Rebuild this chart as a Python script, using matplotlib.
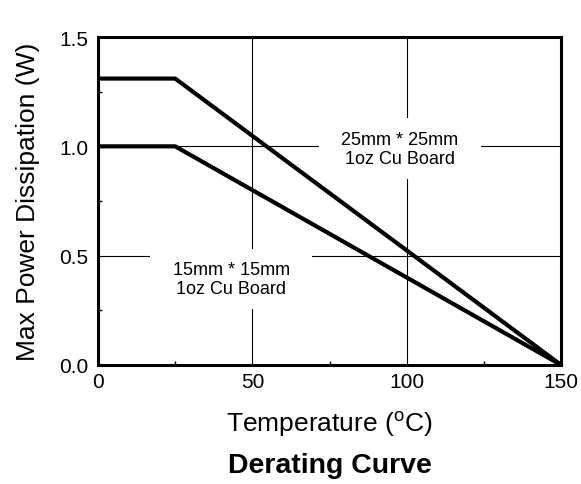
import matplotlib

matplotlib.use("Agg")
import matplotlib.pyplot as plt
from matplotlib.ticker import MultipleLocator

plt.rcParams["font.family"] = ["Liberation Sans", "DejaVu Sans"]
plt.rcParams["mathtext.fontset"] = "custom"
plt.rcParams["mathtext.rm"] = "Liberation Sans"

# derating curves: temperature (C) vs max power (W)
temp = [0, 25, 150]
power_25mm = [1.31, 1.31, 0.0]
power_15mm = [1.0, 1.0, 0.0]

x_ticks = [0, 50, 100, 150]
y_ticks = [0.0, 0.5, 1.0, 1.5]

fig = plt.figure(figsize=(5.81, 4.85), dpi=100)
ax = fig.add_axes([0.1687, 0.2454, 0.797, 0.6762])

ax.plot(temp, power_25mm, color="black", lw=3, solid_capstyle="butt", zorder=3)
ax.plot(temp, power_15mm, color="black", lw=3, solid_capstyle="butt", zorder=3)

ax.set_xlim(0, 150)
ax.set_ylim(0, 1.5)
ax.set_xticks(x_ticks)
ax.set_yticks(y_ticks)
ax.set_yticklabels([f"{v:.1f}" for v in y_ticks])
ax.xaxis.set_minor_locator(MultipleLocator(25))
ax.yaxis.set_minor_locator(MultipleLocator(0.25))
ax.tick_params(which="major", direction="in", length=0, labelsize=15)
ax.tick_params(axis="x", which="major", pad=5)
ax.tick_params(axis="y", which="major", pad=7)
ax.tick_params(which="minor", direction="in", length=3, width=1)
ax.grid(True, which="major", color="black", lw=0.8)
for s in ax.spines.values():
    s.set_linewidth(2.2)

box = dict(facecolor="white", edgecolor="none", pad=9)
ax.text(97.8, 0.99, "  25mm * 25mm  \n1oz Cu Board", ha="center", va="center",
        fontsize=13, linespacing=1.15, bbox=box, zorder=2)
ax.text(43.1, 0.393, "  15mm * 15mm  \n1oz Cu Board", ha="center", va="center",
        fontsize=13, linespacing=1.15, bbox=box, zorder=2)

fig.text(0.5 * (0.1687 + 0.9656), 1 - 432 / 485, "Temperature ($^{\\rm o}$C)",
         ha="center", va="baseline", fontsize=19)
fig.text(0.048, 1 - 202 / 485, "Max Power Dissipation (W)", rotation=90,
         ha="center", va="center", fontsize=19)
fig.text(0.5 * (0.1687 + 0.9656), 1 - 473 / 485, "Derating Curve", ha="center",
         va="baseline", fontsize=20.5, fontweight="bold")

fig.savefig("out.png", dpi=100)
